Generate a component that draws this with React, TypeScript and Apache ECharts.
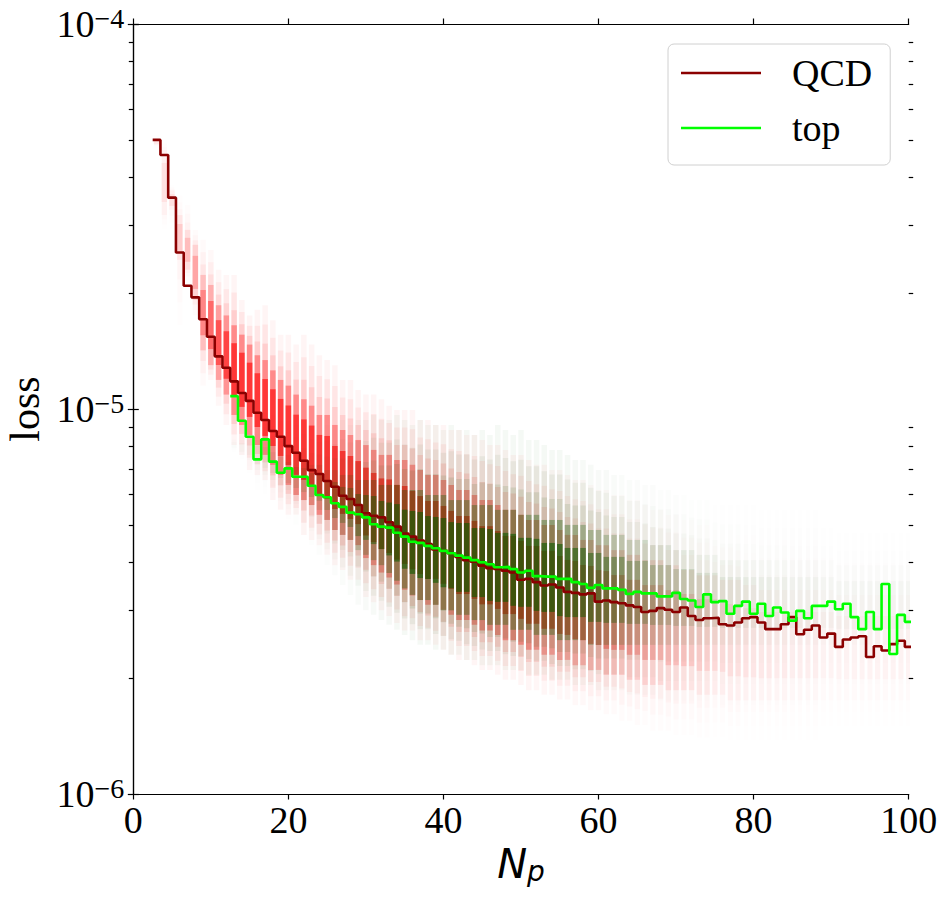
import React, { useEffect, useRef } from "react";
import * as echarts from "echarts";

// ---------- data ----------
const QCD_NP = [3,4,5,6,7,8,9,10,11,12,13,14,15,16,17,18,19,20,21,22,23,24,25,26,27,28,29,30,31,32,33,34,35,36,37,38,39,40,41,42,43,44,45,46,47,48,49,50,51,52,53,54,55,56,57,58,59,60,61,62,63,64,65,66,67,68,69,70,71,72,73,74,75,76,77,78,79,80,81,82,83,84,85,86,87,88,89,90,91,92,93,94,95,96,97,98,99,100];

const QCD_LOSS = [5.00e-5,4.57e-5,3.54e-5,2.55e-5,2.09e-5,1.95e-5,1.71e-5,1.54e-5,1.37e-5,1.28e-5,1.18e-5,1.10e-5,1.05e-5,9.78e-6,9.36e-6,8.77e-6,8.47e-6,8.01e-6,7.70e-6,7.34e-6,6.94e-6,6.78e-6,6.50e-6,6.28e-6,5.95e-6,5.84e-6,5.63e-6,5.36e-6,5.28e-6,5.23e-6,5.08e-6,4.95e-6,4.75e-6,4.66e-6,4.55e-6,4.46e-6,4.32e-6,4.28e-6,4.22e-6,4.13e-6,4.05e-6,4.01e-6,3.92e-6,3.86e-6,3.84e-6,3.80e-6,3.76e-6,3.60e-6,3.62e-6,3.55e-6,3.48e-6,3.50e-6,3.44e-6,3.35e-6,3.33e-6,3.30e-6,3.32e-6,3.16e-6,3.18e-6,3.15e-6,3.13e-6,3.09e-6,3.06e-6,2.97e-6,2.99e-6,3.04e-6,3.01e-6,2.97e-6,3.05e-6,2.90e-6,2.83e-6,2.86e-6,2.87e-6,2.76e-6,2.74e-6,2.79e-6,2.86e-6,2.88e-6,2.79e-6,2.68e-6,2.68e-6,2.76e-6,2.88e-6,2.60e-6,2.67e-6,2.74e-6,2.55e-6,2.61e-6,2.41e-6,2.52e-6,2.55e-6,2.57e-6,2.27e-6,2.42e-6,2.36e-6,2.45e-6,2.50e-6,2.41e-6];

const TOP_NP = [13,14,15,16,17,18,19,20,21,22,23,24,25,26,27,28,29,30,31,32,33,34,35,36,37,38,39,40,41,42,43,44,45,46,47,48,49,50,51,52,53,54,55,56,57,58,59,60,61,62,63,64,65,66,67,68,69,70,71,72,73,74,75,76,77,78,79,80,81,82,83,84,85,86,87,88,89,90,91,92,93,94,95,96,97,98,99,100];

const TOP_LOSS = [1.08e-5,9.32e-6,8.47e-6,7.40e-6,8.34e-6,7.30e-6,6.83e-6,7.01e-6,6.67e-6,6.67e-6,6.32e-6,5.98e-6,5.90e-6,5.69e-6,5.57e-6,5.38e-6,5.33e-6,5.23e-6,5.02e-6,4.95e-6,4.92e-6,4.77e-6,4.66e-6,4.52e-6,4.49e-6,4.41e-6,4.35e-6,4.28e-6,4.22e-6,4.16e-6,4.11e-6,4.05e-6,4.00e-6,3.95e-6,3.88e-6,3.89e-6,3.84e-6,3.76e-6,3.80e-6,3.68e-6,3.67e-6,3.67e-6,3.62e-6,3.62e-6,3.55e-6,3.51e-6,3.43e-6,3.49e-6,3.42e-6,3.42e-6,3.39e-6,3.31e-6,3.35e-6,3.32e-6,3.32e-6,3.26e-6,3.26e-6,3.33e-6,3.21e-6,3.18e-6,3.06e-6,3.30e-6,3.15e-6,3.17e-6,2.94e-6,3.08e-6,3.16e-6,2.94e-6,3.12e-6,2.90e-6,3.05e-6,2.96e-6,2.82e-6,2.99e-6,2.86e-6,3.08e-6,3.08e-6,3.16e-6,3.02e-6,3.12e-6,2.88e-6,2.68e-6,2.97e-6,2.68e-6,3.51e-6,2.31e-6,2.92e-6,2.80e-6];

// per-Np spread of the individual QCD jets (aligned with QCD_NP): upper edge, dense upper, dense lower, lower edge, density
const QCD_SPREAD_HI = [5.15e-5,5.0e-5,3.82e-5,3.59e-5,3.39e-5,2.92e-5,2.75e-5,2.59e-5,2.30e-5,2.23e-5,2.23e-5,1.92e-5,1.75e-5,1.81e-5,1.86e-5,1.70e-5,1.56e-5,1.56e-5,1.47e-5,1.56e-5,1.47e-5,1.38e-5,1.34e-5,1.30e-5,1.19e-5,1.19e-5,1.12e-5,1.09e-5,1.09e-5,1.06e-5,1.02e-5,9.94e-6,9.94e-6,9.94e-6,9.36e-6,9.36e-6,9.09e-6,9.09e-6,8.82e-6,8.82e-6,8.56e-6,8.56e-6,8.31e-6,8.06e-6,8.06e-6,7.83e-6,7.60e-6,7.60e-6,7.37e-6,7.16e-6,7.16e-6,6.94e-6,6.94e-6,6.74e-6,6.54e-6,6.54e-6,6.35e-6,6.16e-6,6.16e-6,5.98e-6,5.98e-6,5.80e-6,5.80e-6,5.63e-6,5.47e-6,5.47e-6,5.31e-6,5.31e-6,5.15e-6,5.15e-6,5.00e-6,5.00e-6,4.85e-6,4.85e-6,4.85e-6,4.71e-6,4.71e-6,4.71e-6,4.57e-6,4.57e-6,4.57e-6,4.57e-6,4.57e-6,4.57e-6,4.57e-6,4.57e-6,4.57e-6,4.57e-6,4.43e-6,4.43e-6,4.43e-6,4.43e-6,4.43e-6,4.43e-6,4.43e-6,4.43e-6,4.43e-6,4.43e-6];
const QCD_SPREAD_CORE_HI = [5.0e-5,4.71e-5,3.70e-5,3.19e-5,2.92e-5,2.67e-5,2.23e-5,2.10e-5,1.86e-5,1.75e-5,1.65e-5,1.56e-5,1.47e-5,1.38e-5,1.34e-5,1.26e-5,1.19e-5,1.15e-5,1.09e-5,1.06e-5,1.02e-5,9.65e-6,9.65e-6,9.09e-6,8.82e-6,8.56e-6,8.31e-6,8.06e-6,7.83e-6,7.60e-6,7.60e-6,7.37e-6,7.37e-6,7.16e-6,6.94e-6,6.74e-6,6.74e-6,6.54e-6,6.35e-6,6.16e-6,6.16e-6,5.98e-6,5.80e-6,5.80e-6,5.63e-6,5.47e-6,5.47e-6,5.31e-6,5.15e-6,5.15e-6,5.00e-6,5.00e-6,4.85e-6,4.71e-6,4.71e-6,4.57e-6,4.57e-6,4.43e-6,4.43e-6,4.30e-6,4.30e-6,4.18e-6,4.18e-6,4.05e-6,4.05e-6,4.05e-6,3.93e-6,3.93e-6,3.82e-6,3.82e-6,3.70e-6,3.70e-6,3.70e-6,3.60e-6,3.60e-6,3.60e-6,3.49e-6,3.49e-6,3.39e-6,3.39e-6,3.39e-6,3.39e-6,3.39e-6,3.39e-6,3.39e-6,3.39e-6,3.39e-6,3.39e-6,3.29e-6,3.29e-6,3.29e-6,3.29e-6,3.29e-6,3.29e-6,3.29e-6,3.29e-6,3.29e-6,3.29e-6];
const QCD_SPREAD_CORE_LO = [4.85e-5,3.19e-5,3.29e-5,2.44e-5,2.30e-5,1.92e-5,1.42e-5,1.30e-5,1.19e-5,1.09e-5,9.65e-6,9.09e-6,8.56e-6,8.06e-6,7.60e-6,7.16e-6,6.74e-6,6.35e-6,5.98e-6,5.80e-6,5.63e-6,5.31e-6,5.15e-6,4.85e-6,4.71e-6,4.57e-6,4.43e-6,4.10e-6,3.93e-6,3.76e-6,3.65e-6,3.50e-6,3.39e-6,3.28e-6,3.19e-6,3.10e-6,3.10e-6,3.01e-6,2.92e-6,2.83e-6,2.83e-6,2.75e-6,2.66e-6,2.66e-6,2.59e-6,2.51e-6,2.51e-6,2.44e-6,2.37e-6,2.37e-6,2.30e-6,2.30e-6,2.23e-6,2.23e-6,2.16e-6,2.16e-6,2.10e-6,2.10e-6,2.04e-6,2.04e-6,2.04e-6,1.98e-6,1.98e-6,1.92e-6,1.92e-6,1.92e-6,1.86e-6,1.86e-6,1.86e-6,1.86e-6,1.81e-6,1.81e-6,1.81e-6,1.81e-6,1.75e-6,1.75e-6,1.75e-6,1.75e-6,1.75e-6,1.75e-6,1.75e-6,1.75e-6,1.75e-6,1.75e-6,1.75e-6,1.75e-6,1.75e-6,1.75e-6,1.75e-6,1.75e-6,1.75e-6,1.75e-6,1.75e-6,1.75e-6,1.75e-6,1.75e-6,1.75e-6,1.75e-6];
const QCD_SPREAD_LO = [4.71e-5,2.92e-5,2.92e-5,1.65e-5,2.16e-5,1.75e-5,1.15e-5,1.19e-5,1.02e-5,9.09e-6,8.06e-6,7.60e-6,6.94e-6,6.74e-6,6.54e-6,5.80e-6,5.47e-6,5.31e-6,5.31e-6,4.71e-6,4.57e-6,4.43e-6,4.18e-6,3.93e-6,3.82e-6,3.60e-6,3.60e-6,3.25e-6,3.15e-6,3.00e-6,2.90e-6,2.78e-6,2.66e-6,2.66e-6,2.51e-6,2.51e-6,2.44e-6,2.37e-6,2.30e-6,2.23e-6,2.23e-6,2.16e-6,2.10e-6,2.10e-6,2.04e-6,1.98e-6,1.98e-6,1.92e-6,1.86e-6,1.86e-6,1.81e-6,1.81e-6,1.76e-6,1.76e-6,1.70e-6,1.70e-6,1.65e-6,1.65e-6,1.61e-6,1.61e-6,1.55e-6,1.55e-6,1.51e-6,1.51e-6,1.46e-6,1.46e-6,1.46e-6,1.42e-6,1.42e-6,1.42e-6,1.40e-6,1.40e-6,1.40e-6,1.40e-6,1.38e-6,1.38e-6,1.38e-6,1.38e-6,1.38e-6,1.38e-6,1.38e-6,1.38e-6,1.38e-6,1.38e-6,1.38e-6,1.38e-6,1.38e-6,1.38e-6,1.38e-6,1.38e-6,1.38e-6,1.38e-6,1.38e-6,1.38e-6,1.38e-6,1.38e-6,1.38e-6,1.38e-6];
const QCD_DENSITY = [
  0.08,0.1,0.12,0.18,0.25,0.35,0.5,0.65,0.8,0.9, // Np 3-12
  1,1,1,1,1,1,1,1,1,1, // 13-22
  1,1,1,1,1,1,1,1,1,1, // 23-32
  1,1,1,1,1,1,1,1,1,1, // 33-42
  1,1,1,1,1,1,1,1, // 43-50
  0.95,0.9,0.86,0.82,0.78,0.74,0.7,0.65,0.6,0.56, // 51-60
  0.52,0.48,0.44,0.4,0.37,0.34,0.31,0.28,0.25,0.23, // 61-70
  0.21,0.19,0.17,0.15,0.13,0.12,0.11,0.1,0.09,0.08, // 71-80
  0.07,0.07,0.06,0.06,0.05,0.05,0.05,0.05,0.04,0.04, // 81-90
  0.04,0.04,0.04,0.04,0.04,0.04,0.04,0.04,0.04,0.04, // 91-100
];

// per-Np spread of the individual top jets (aligned with TOP_NP)
const TOP_SPREAD_HI = [8.56e-6,8.82e-6,9.36e-6,9.36e-6,9.36e-6,9.65e-6,9.36e-6,9.36e-6,9.09e-6,9.36e-6,9.09e-6,8.82e-6,9.09e-6,8.82e-6,9.36e-6,9.09e-6,9.36e-6,9.36e-6,9.65e-6,9.36e-6,9.36e-6,9.65e-6,9.36e-6,9.09e-6,9.36e-6,9.09e-6,9.09e-6,8.82e-6,9.09e-6,8.82e-6,8.82e-6,8.56e-6,8.82e-6,8.56e-6,9.09e-6,8.82e-6,8.56e-6,8.82e-6,8.31e-6,8.31e-6,8.06e-6,7.83e-6,7.83e-6,7.60e-6,7.37e-6,7.37e-6,7.16e-6,6.94e-6,6.94e-6,6.74e-6,6.74e-6,6.54e-6,6.54e-6,6.35e-6,6.35e-6,6.16e-6,6.16e-6,5.98e-6,5.98e-6,5.80e-6,5.80e-6,5.80e-6,5.63e-6,5.63e-6,5.63e-6,5.63e-6,5.63e-6,5.63e-6,5.47e-6,5.47e-6,5.47e-6,5.47e-6,5.47e-6,5.47e-6,5.47e-6,5.47e-6,5.47e-6,5.47e-6,5.31e-6,5.31e-6,5.31e-6,5.31e-6,5.31e-6,5.31e-6,5.31e-6,5.31e-6,5.31e-6,5.31e-6];
const TOP_SPREAD_CORE_HI = [8.31e-6,8.31e-6,8.56e-6,8.31e-6,8.31e-6,8.06e-6,7.83e-6,7.60e-6,7.37e-6,7.37e-6,7.16e-6,7.16e-6,6.94e-6,6.94e-6,6.74e-6,6.74e-6,6.54e-6,6.54e-6,6.54e-6,6.35e-6,6.35e-6,6.35e-6,6.16e-6,6.16e-6,6.16e-6,5.98e-6,5.98e-6,5.98e-6,5.80e-6,5.80e-6,5.80e-6,5.63e-6,5.63e-6,5.63e-6,5.47e-6,5.47e-6,5.47e-6,5.31e-6,5.31e-6,5.31e-6,5.15e-6,5.15e-6,5.15e-6,5.00e-6,5.00e-6,5.00e-6,4.85e-6,4.85e-6,4.71e-6,4.71e-6,4.71e-6,4.57e-6,4.57e-6,4.57e-6,4.43e-6,4.43e-6,4.43e-6,4.30e-6,4.30e-6,4.30e-6,4.18e-6,4.18e-6,4.18e-6,4.05e-6,4.05e-6,4.05e-6,4.05e-6,4.05e-6,4.05e-6,4.05e-6,4.05e-6,4.05e-6,4.05e-6,4.05e-6,4.05e-6,4.05e-6,4.05e-6,4.05e-6,3.93e-6,3.93e-6,3.93e-6,3.93e-6,3.93e-6,3.93e-6,3.93e-6,3.93e-6,3.93e-6,3.93e-6];
const TOP_SPREAD_CORE_LO = [7.83e-6,7.60e-6,7.37e-6,6.94e-6,6.74e-6,6.54e-6,6.35e-6,6.16e-6,5.98e-6,5.80e-6,5.63e-6,5.47e-6,5.15e-6,4.85e-6,4.71e-6,4.57e-6,4.30e-6,4.18e-6,4.05e-6,3.93e-6,3.75e-6,3.58e-6,3.42e-6,3.29e-6,3.19e-6,3.19e-6,3.10e-6,3.00e-6,3.00e-6,2.92e-6,2.92e-6,2.83e-6,2.83e-6,2.75e-6,2.75e-6,2.75e-6,2.67e-6,2.67e-6,2.67e-6,2.59e-6,2.59e-6,2.59e-6,2.51e-6,2.51e-6,2.51e-6,2.51e-6,2.44e-6,2.44e-6,2.44e-6,2.44e-6,2.44e-6,2.44e-6,2.44e-6,2.44e-6,2.44e-6,2.44e-6,2.44e-6,2.44e-6,2.44e-6,2.44e-6,2.44e-6,2.44e-6,2.44e-6,2.44e-6,2.44e-6,2.44e-6,2.44e-6,2.44e-6,2.44e-6,2.44e-6,2.44e-6,2.44e-6,2.44e-6,2.44e-6,2.44e-6,2.44e-6,2.44e-6,2.44e-6,2.44e-6,2.44e-6,2.44e-6,2.44e-6,2.44e-6,2.44e-6,2.44e-6,2.44e-6,2.44e-6,2.44e-6];
const TOP_SPREAD_LO = [7.37e-6,6.94e-6,6.54e-6,6.16e-6,5.98e-6,5.80e-6,5.47e-6,5.15e-6,5.00e-6,4.71e-6,4.43e-6,4.18e-6,3.93e-6,3.70e-6,3.49e-6,3.29e-6,3.10e-6,3.00e-6,2.92e-6,2.83e-6,2.75e-6,2.67e-6,2.59e-6,2.51e-6,2.44e-6,2.44e-6,2.37e-6,2.37e-6,2.30e-6,2.30e-6,2.23e-6,2.23e-6,2.16e-6,2.16e-6,2.16e-6,2.10e-6,2.10e-6,2.10e-6,2.04e-6,2.04e-6,2.04e-6,1.98e-6,1.98e-6,1.98e-6,1.92e-6,1.92e-6,1.92e-6,1.86e-6,1.86e-6,1.86e-6,1.86e-6,1.81e-6,1.81e-6,1.81e-6,1.81e-6,1.75e-6,1.75e-6,1.75e-6,1.75e-6,1.75e-6,1.75e-6,1.75e-6,1.75e-6,1.70e-6,1.70e-6,1.70e-6,1.70e-6,1.70e-6,1.70e-6,1.70e-6,1.70e-6,1.70e-6,1.70e-6,1.70e-6,1.70e-6,1.70e-6,1.70e-6,1.70e-6,1.70e-6,1.70e-6,1.70e-6,1.70e-6,1.70e-6,1.70e-6,1.70e-6,1.70e-6,1.70e-6,1.70e-6];
const TOP_DENSITY = [
  0.02,0.03,0.04,0.05,0.06,0.08,0.1,0.12,0.15,0.18, // Np 13-22
  0.22,0.27,0.32,0.38,0.45,0.52,0.6,0.68,0.76,0.84, // 23-32
  0.9,0.95,0.98, // 33-35
  1,1,1,1,1,1,1,1,1,1, // 36-45
  1,1,1,1,1,1,1,1,1,1, // 46-55
  0.94,0.88,0.82,0.76,0.7,0.64,0.58,0.53,0.48,0.43, // 56-65
  0.39,0.35,0.31,0.28,0.25,0.22,0.2,0.17,0.15,0.13, // 66-75
  0.12,0.11,0.1,0.09,0.08,0.07,0.07,0.06,0.06,0.05, // 76-85
  0.05,0.05,0.05,0.04,0.04,0.04,0.04,0.04,0.04,0.04, // 86-95
  0.04,0.04,0.04,0.04,0.04, // 96-100
];

const X_MIN = 0;
const X_MAX = 100;
const Y_MIN = 1e-6;
const Y_MAX = 1e-4;
const Y_MINOR_TICKS = [2e-6,3e-6,4e-6,5e-6,6e-6,7e-6,8e-6,9e-6,2e-5,3e-5,4e-5,5e-5,6e-5,7e-5,8e-5,9e-5];

const SERIF = "'Liberation Serif', 'Times New Roman', serif";
const SANS = "'DejaVu Sans', sans-serif";

const QCD_LINE = "#8b0000";
const TOP_LINE = "#00ff00";
const QCD_DOT = "#ff0000";
const TOP_DOT = "#0a5a00";

function stepData(np: number[], loss: number[]) {
  const d: number[][] = np.map((n, i) => [n - 0.5, loss[i]]);
  d.push([np[np.length - 1] + 0.5, loss[loss.length - 1]]);
  return d;
}

function spreadRows(np: number[], hi: number[], cHi: number[], cLo: number[], lo: number[], w: number[]) {
  return np.map((n, i) => [n, hi[i], cHi[i], cLo[i], lo[i], w[i] ?? 0]);
}

function columnRenderer(color: string) {
  return (params: any, api: any) => {
    const n = api.value(0);
    const pHi = api.coord([n, api.value(1)]);
    const x = pHi[0];
    const yHi = pHi[1];
    const yCHi = api.coord([n, api.value(2)])[1];
    const yCLo = api.coord([n, api.value(3)])[1];
    const yLo = api.coord([n, api.value(4)])[1];
    const w = api.value(5);
    const unit = api.coord([n + 1, api.value(1)])[0] - x;
    const cw = unit * 0.72;
    const layers = [
      [0, 0.04],
      [0.35, 0.06],
      [0.7, 0.1],
      [1, 0.33],
    ];
    const children: any[] = layers.map(([t, a]) => {
      const top = yHi + (yCHi - yHi) * t;
      const bot = yLo + (yCLo - yLo) * t;
      return {
        type: "rect",
        shape: { x: x - cw / 2, y: top, width: cw, height: Math.max(bot - top, 1.5) },
        style: { fill: color, opacity: a * w },
      };
    });
    const span = yCLo - yCHi;
    children.push({
      type: "rect",
      shape: { x: x - cw / 2, y: yCHi + span * 0.2, width: cw, height: Math.max(span * 0.6, 1) },
      style: { fill: color, opacity: 0.6 * w },
    });
    return { type: "group", children };
  };
}

export default function App() {
  const ref = useRef<HTMLDivElement>(null);

  useEffect(() => {
    if (!ref.current) return;
    const chart = echarts.init(ref.current, undefined, { renderer: "svg" });

    const axisLine = { show: true, lineStyle: { color: "#000", width: 1.2 } };
    const tick = { show: true, inside: false, length: 5.5, lineStyle: { color: "#000", width: 1.2 } };

    const option: any = {
      animation: false,
      backgroundColor: "#fff",
      textStyle: { fontFamily: SERIF },
      grid: { left: 133.3, right: 38.3, top: 24, bottom: 106, outerBoundsMode: "none", containLabel: false },
      legend: {
        data: ["QCD", "top"],
        orient: "vertical",
        left: 668,
        top: 44,
        padding: [9, 18, 17, 13],
        itemGap: 15,
        itemWidth: 80,
        itemHeight: 2.5,
        icon: "rect",
        borderColor: "#d0d0d0",
        borderWidth: 1,
        borderRadius: 6,
        backgroundColor: "rgba(255,255,255,0.8)",
        textStyle: { fontFamily: SERIF, fontSize: 38, color: "#000", lineHeight: 40, padding: [0, 0, 0, 26] },
        selectedMode: false,
      },
      xAxis: [
        {
          type: "value",
          min: X_MIN,
          max: X_MAX,
          interval: 20,
          position: "bottom",
          axisLine,
          axisTick: tick,
          splitLine: { show: false },
          axisLabel: { fontFamily: SERIF, fontSize: 38, color: "#000", margin: 7 },
          name: "{n|N}{p|p}",
          nameLocation: "middle",
          nameGap: 44,
          nameTextStyle: {
            rich: {
              n: { fontFamily: SANS, fontStyle: "italic", fontSize: 40, color: "#000", lineHeight: 44 },
              p: { fontFamily: SANS, fontStyle: "italic", fontSize: 28, color: "#000", lineHeight: 20, verticalAlign: "bottom" },
            },
          },
        },
        {
          type: "value",
          min: X_MIN,
          max: X_MAX,
          interval: 20,
          position: "top",
          axisLine,
          axisTick: tick,
          splitLine: { show: false },
          axisLabel: { show: false },
        },
      ],
      yAxis: [
        {
          type: "log",
          logBase: 10,
          min: Y_MIN,
          max: Y_MAX,
          position: "left",
          axisLine,
          axisTick: tick,
          splitLine: { show: false },
          axisLabel: {
            margin: 9,
            formatter: (v: number) => {
              const e = Math.round(Math.log10(v));
              return `{b|10}{s|${e < 0 ? "\u2212" : ""}${Math.abs(e)}}`;
            },
            rich: {
              b: { fontFamily: SERIF, fontSize: 38, color: "#000", lineHeight: 40 },
              s: { fontFamily: SERIF, fontSize: 28, color: "#000", lineHeight: 24, verticalAlign: "top" },
            },
          },
          name: "loss",
          nameLocation: "middle",
          nameRotate: 90,
          nameGap: 84,
          nameTextStyle: { fontFamily: SERIF, fontSize: 42, color: "#000" },
        },
        {
          type: "log",
          logBase: 10,
          min: Y_MIN,
          max: Y_MAX,
          position: "right",
          axisLine,
          axisTick: tick,
          splitLine: { show: false },
          axisLabel: { show: false },
        },
      ],
      series: [
        {
          name: "QCD jets",
          type: "custom",
          xAxisIndex: 0,
          yAxisIndex: 0,
          clip: true,
          silent: true,
          z: 1,
          encode: { x: 0, y: [1, 2, 3, 4] },
          renderItem: columnRenderer(QCD_DOT),
          data: spreadRows(QCD_NP, QCD_SPREAD_HI, QCD_SPREAD_CORE_HI, QCD_SPREAD_CORE_LO, QCD_SPREAD_LO, QCD_DENSITY),
        },
        {
          name: "top jets",
          type: "custom",
          xAxisIndex: 0,
          yAxisIndex: 0,
          clip: true,
          silent: true,
          z: 2,
          encode: { x: 0, y: [1, 2, 3, 4] },
          renderItem: columnRenderer(TOP_DOT),
          data: spreadRows(TOP_NP, TOP_SPREAD_HI, TOP_SPREAD_CORE_HI, TOP_SPREAD_CORE_LO, TOP_SPREAD_LO, TOP_DENSITY),
        },
        {
          name: "QCD",
          type: "line",
          step: "end",
          symbol: "none",
          showSymbol: false,
          clip: true,
          z: 3,
          color: QCD_LINE,
          itemStyle: { color: QCD_LINE },
          lineStyle: { color: QCD_LINE, width: 2.6 },
          data: stepData(QCD_NP, QCD_LOSS),
        },
        {
          name: "top",
          type: "line",
          step: "end",
          symbol: "none",
          showSymbol: false,
          clip: true,
          z: 4,
          color: TOP_LINE,
          itemStyle: { color: TOP_LINE },
          lineStyle: { color: TOP_LINE, width: 2.6 },
          data: stepData(TOP_NP, TOP_LOSS),
        },
      ],
    };

    chart.setOption(option);

    // minor log ticks on both frame edges, placed through the chart's own log scale
    const finder = { xAxisIndex: 0, yAxisIndex: 0 };
    const minorTicks: any[] = [];
    Y_MINOR_TICKS.forEach((v) => {
      const pl = chart.convertToPixel(finder, [X_MIN, v]) as number[];
      const pr = chart.convertToPixel(finder, [X_MAX, v]) as number[];
      if (!pl || !pr) return;
      const y = Math.round(pl[1]) + 0.5;
      minorTicks.push({
        type: "rect",
        silent: true,
        z: 100,
        shape: { x: pl[0] - 4.5, y: y - 0.6, width: 4.5, height: 1.2 },
        style: { fill: "#000" },
      });
      minorTicks.push({
        type: "rect",
        silent: true,
        z: 100,
        shape: { x: pr[0], y: y - 0.6, width: 4.5, height: 1.2 },
        style: { fill: "#000" },
      });
    });
    chart.setOption({ graphic: { elements: minorTicks } });

    return () => chart.dispose();
  }, []);

  return (
    <div
      ref={ref}
      style={{ position: "absolute", left: 0, top: 0, width: 947, height: 900, background: "#fff" }}
    />
  );
}
